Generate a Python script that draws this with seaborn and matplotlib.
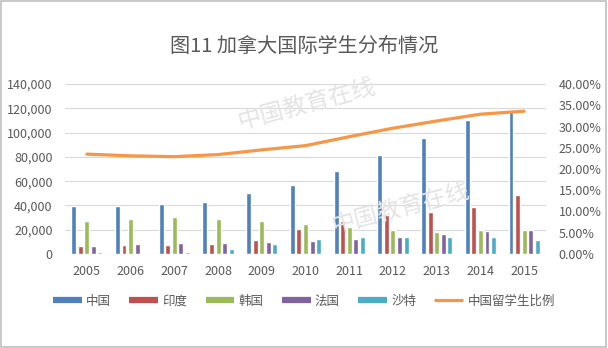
import numpy as np
import pandas as pd
import matplotlib
matplotlib.use("Agg")
import matplotlib.pyplot as plt
from matplotlib.lines import Line2D
from matplotlib.ticker import FuncFormatter, MultipleLocator
import seaborn as sns

# ---- data ----
years = ["2005", "2006", "2007", "2008", "2009", "2010",
         "2011", "2012", "2013", "2014", "2015"]
countries = ["中国", "印度", "韩国", "法国", "沙特"]
china = [39800, 39600, 41000, 42600, 50500, 57000, 68300, 81400, 95300, 110300, 118300]
india = [7000, 7400, 7600, 8200, 11700, 20200, 27300, 32000, 34700, 39000, 48400]
korea = [27300, 29200, 30600, 28700, 27000, 24800, 22100, 19900, 18300, 19400, 19700]
france = [6800, 8200, 8700, 9300, 10100, 11100, 12500, 14400, 16100, 18800, 19700]
saudi = [1300, 1000, 1900, 4300, 7900, 12300, 13900, 13600, 13900, 13600, 11500]
ratio_label = "中国留学生比例"
china_ratio = [23.5, 23.1, 22.9, 23.4, 24.5, 25.5, 27.6, 29.6, 31.3, 32.9, 33.6]
title = "图11 加拿大国际学生分布情况"

colors = ["#4F81BD", "#C0504D", "#9BBB59", "#8064A2", "#4BACC6"]
line_color = "#F79646"
text_color = "#595959"

df = pd.DataFrame({
    "year": np.tile(years, len(countries)),
    "country": np.repeat(countries, len(years)),
    "students": china + india + korea + france + saudi,
})

sns.set_theme(style="white")
plt.rcParams["font.family"] = ["Noto Sans CJK SC", "DejaVu Sans"]

fig = plt.figure(figsize=(6.08, 3.48), dpi=100)
ax = fig.add_axes([65 / 608, 1 - 254 / 348, (546 - 65) / 608, (254 - 84) / 348])

sns.barplot(data=df, x="year", y="students", hue="country", order=years,
            hue_order=countries, palette=colors, width=0.75, gap=0.25,
            saturation=1, errorbar=None, legend=False, ax=ax)

ax.set_ylim(0, 140000)
ax.yaxis.set_major_locator(MultipleLocator(20000))
ax.yaxis.set_major_formatter(FuncFormatter(lambda v, _: f"{int(v):,}"))
ax.grid(axis="y", color="#D9D9D9", linewidth=0.8)
ax.set_axisbelow(True)
for s in ax.spines.values():
    s.set_visible(False)
ax.set_xlabel("")
ax.set_ylabel("")
ax.tick_params(axis="both", length=0, labelsize=9, colors=text_color)
ax.tick_params(axis="y", pad=9)
ax.tick_params(axis="x", pad=8)

ax2 = ax.twinx()
sns.pointplot(x=years, y=china_ratio, order=years, color=line_color,
              marker="", linewidth=2.3, errorbar=None, ax=ax2)
ax2.set_ylim(0, 40)
ax2.yaxis.set_major_locator(MultipleLocator(5))
ax2.yaxis.set_major_formatter(FuncFormatter(lambda v, _: f"{v:.2f}%"))
ax2.grid(False)
for s in ax2.spines.values():
    s.set_visible(False)
ax2.set_ylabel("")
ax2.tick_params(axis="y", length=0, labelsize=9, colors=text_color, pad=9)

fig.text(0.5, 1 - 47 / 348, title, ha="center", va="center",
         fontsize=14.5, color=text_color)

# faint site watermark
for (x, y, s) in [(0.505, 0.70, "中国教育在线"), (0.66, 0.40, "中国教育在线")]:
    fig.text(x, y, s, ha="center", va="center", fontsize=17, rotation=15,
             color="#E4E4E4", zorder=0.5)

handles = [Line2D([], [], color=c, linewidth=4.5, solid_capstyle="butt") for c in colors]
handles.append(Line2D([], [], color=line_color, linewidth=2.3, solid_capstyle="butt"))
labels = countries + [ratio_label]
fig.legend(handles, labels, loc="center", bbox_to_anchor=(0.5, 1 - 301 / 348),
           ncol=6, frameon=False, fontsize=9, handlelength=2.3,
           handletextpad=0.35, columnspacing=1.45, labelcolor=text_color)

fig.patches.append(plt.Rectangle((0.002, 0.003), 0.994, 0.994, transform=fig.transFigure,
                                 fill=False, edgecolor="#BFBFBF", linewidth=1.2))

fig.savefig("out.png", dpi=100, facecolor="white")
